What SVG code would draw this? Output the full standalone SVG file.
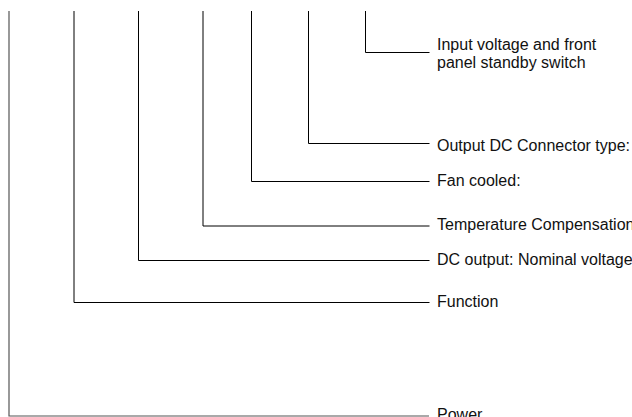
<svg xmlns="http://www.w3.org/2000/svg" width="632" height="417" viewBox="0 0 632 417">
<style>
.c{fill:none;stroke:#000;stroke-width:1}
.t{font-family:"Liberation Sans",Arial,sans-serif;font-size:16px;fill:#111}
</style>
<rect width="632" height="417" fill="#fff"/>
<g id="connectors">
<path class="c" d="M9 11V416H429" style="stroke:#555;stroke-width:1.2"/>
<path class="c" d="M74 11V302.5H429.5"/>
<path class="c" d="M138.5 11V260.5H429.5"/>
<path class="c" d="M203 11V226H429.5"/>
<path class="c" d="M251.5 11V181.5H429.5"/>
<path class="c" d="M308.5 11V143.5H429.5"/>
<path class="c" d="M365.5 11V52.5H429.5"/>
</g>
<g id="input"><text class="t" x="437" y="50">Input voltage and front</text><text class="t" x="437" y="68">panel standby switch</text></g>
<g id="output-dc"><text class="t" x="437" y="150.5">Output DC Connector type:</text></g>
<g id="fan"><text class="t" x="437" y="185.7">Fan cooled:</text></g>
<g id="temp"><text class="t" x="437" y="230.3">Temperature Compensation</text></g>
<g id="dc-output"><text class="t" x="437" y="265">DC output: Nominal voltage</text></g>
<g id="function"><text class="t" x="437" y="306.7">Function</text></g>
<g id="power"><text class="t" x="437" y="420">Power</text></g>
</svg>
